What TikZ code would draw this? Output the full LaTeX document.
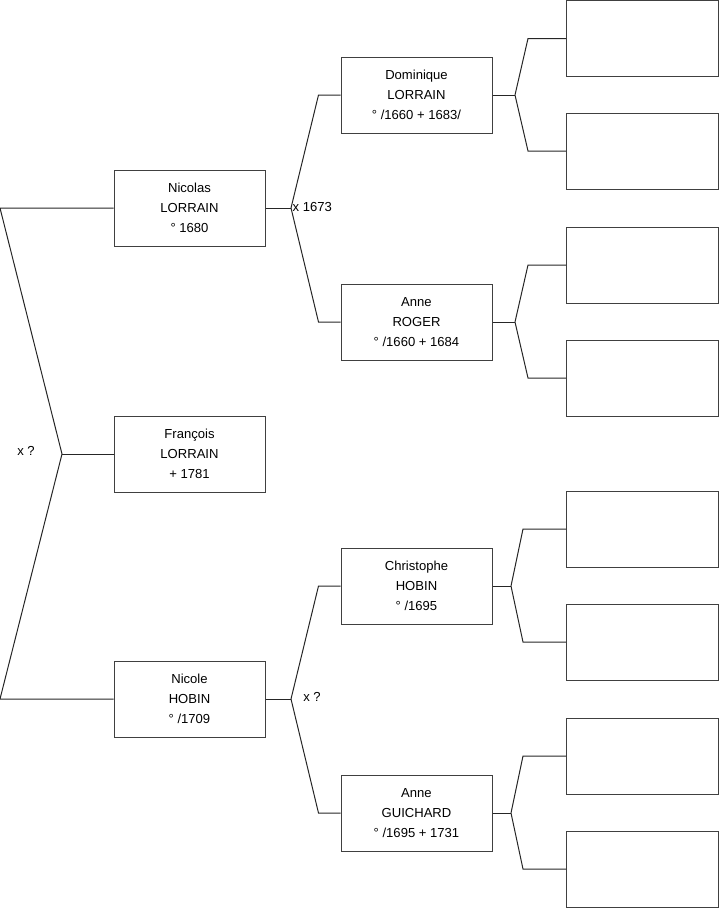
\documentclass[tikz,border=0pt]{standalone}
\usepackage{fontspec}
\setmainfont{Liberation Sans}
\usetikzlibrary{positioning}

\begin{document}
\begin{tikzpicture}[
  x=0.75pt, y=-0.75pt,
  font=\fontsize{9.8}{15}\selectfont,
  person/.style={rectangle, draw=black!75, line width=0.75pt,
                 minimum width=113.25pt, minimum height=57pt,
                 align=center, inner sep=0pt},
  blank/.style={person, minimum width=114pt},
  link/.style={draw=black!85, line width=0.75pt},
  mar/.style={inner sep=1pt}
]
\useasboundingbox (0,0) rectangle (719,908);

% Generation 1: siblings
\node[person] (nicolas) at (189.5,208) {Nicolas\\LORRAIN\\° 1680};
\node[person] (francois) at (189.5,454) {François\\LORRAIN\\+ 1781};
\node[person] (nicole) at (189.5,699) {Nicole\\HOBIN\\° /1709};

% Generation 2: grandparents
\node[person] (dominique) at (416.5,95) {Dominique\\LORRAIN\\° /1660 + 1683/};
\node[person] (anneR) at (416.5,322) {Anne\\ROGER\\° /1660 + 1684};
\node[person] (christophe) at (416.5,586) {Christophe\\HOBIN\\° /1695};
\node[person] (anneG) at (416.5,813) {Anne\\GUICHARD\\° /1695 + 1731};

% Generation 3: empty boxes
\foreach \name/\yy in {d1/38.5, d2/151, r1/265, r2/378, c1/529, c2/642, g1/756, g2/869}
  \node[blank] (\name) at (642.5,\yy) {};

% Left bracket
\coordinate (top) at (0,208);
\coordinate (mid) at (62,454);
\coordinate (bot) at (0,699);
\draw[link] (nicolas.west) -- (top) -- (mid) -- (bot) -- (nicole.west);
\draw[link] (mid) -- (francois.west);
\node[mar] (m0) at (26,451) {x ?};

% Nicolas's parents
\coordinate (j1) at (291,208);
\draw[link] (nicolas.east) -- (j1);
\draw[link] (j1) -- ([xshift=-16.5pt]dominique.west) -- (dominique.west);
\draw[link] (j1) -- ([xshift=-16.5pt]anneR.west) -- (anneR.west);
\node[mar, anchor=west] (m1) at (291,207) {x 1673};

% Nicole's parents
\coordinate (j2) at (291,699);
\draw[link] (nicole.east) -- (j2);
\draw[link] (j2) -- ([xshift=-16.5pt]christophe.west) -- (christophe.west);
\draw[link] (j2) -- ([xshift=-16.5pt]anneG.west) -- (anneG.west);
\node[mar] (m2) at (312,697) {x ?};

% Great-grandparents
\coordinate (k1) at (515,95);
\draw[link] (dominique.east) -- (k1);
\draw[link] (k1) -- ([xshift=-28.5pt]d1.west) -- (d1.west);
\draw[link] (k1) -- ([xshift=-28.5pt]d2.west) -- (d2.west);

\coordinate (k2) at (515,322);
\draw[link] (anneR.east) -- (k2);
\draw[link] (k2) -- ([xshift=-28.5pt]r1.west) -- (r1.west);
\draw[link] (k2) -- ([xshift=-28.5pt]r2.west) -- (r2.west);

\coordinate (k3) at (511,586);
\draw[link] (christophe.east) -- (k3);
\draw[link] (k3) -- ([xshift=-32.25pt]c1.west) -- (c1.west);
\draw[link] (k3) -- ([xshift=-32.25pt]c2.west) -- (c2.west);

\coordinate (k4) at (511,813);
\draw[link] (anneG.east) -- (k4);
\draw[link] (k4) -- ([xshift=-32.25pt]g1.west) -- (g1.west);
\draw[link] (k4) -- ([xshift=-32.25pt]g2.west) -- (g2.west);
\end{tikzpicture}
\end{document}
